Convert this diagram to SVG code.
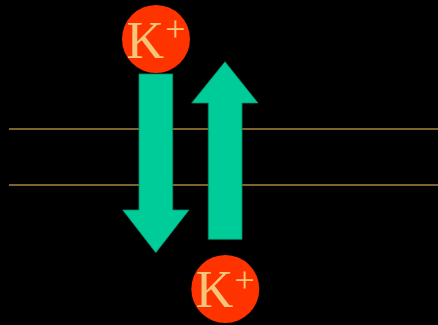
<svg xmlns="http://www.w3.org/2000/svg" width="438" height="325" viewBox="0 0 438 325">
<style>
.mem{stroke:#a8843e;stroke-width:1.5;fill:none}
.arrow{fill:#00cc99;stroke:#0a8a66;stroke-width:0.8}
.ion circle{fill:#ff3300}
.ion text{font-family:"Liberation Serif",serif;fill:#f5c57a}
.k{font-size:52px}
.p{font-size:36px}
</style>
<rect width="438" height="325" fill="#000"/>
<g id="membrane">
<line class="mem" x1="9" y1="129" x2="438" y2="129"/>
<line class="mem" x1="9" y1="185" x2="438" y2="185"/>
</g>
<g id="connectors">
<polygon id="arrow-down" class="arrow" points="139,74 172.7,74 172.7,210 189,210 155.8,252.7 122.7,210 139,210"/>
<polygon id="arrow-up" class="arrow" points="208.3,239.3 242,239.3 242,103 258,103 225,61.7 191.7,103 208.3,103"/>
</g>
<g id="ion-top" class="ion">
<circle cx="156" cy="39" r="34"/>
<text class="k" x="126.5" y="57.5">K</text>
<text class="p" x="165.3" y="41">+</text>
</g>
<g id="ion-bottom" class="ion">
<circle cx="225.3" cy="289" r="34"/>
<text class="k" x="195.8" y="306.5">K</text>
<text class="p" x="234.5" y="292">+</text>
</g>
</svg>
